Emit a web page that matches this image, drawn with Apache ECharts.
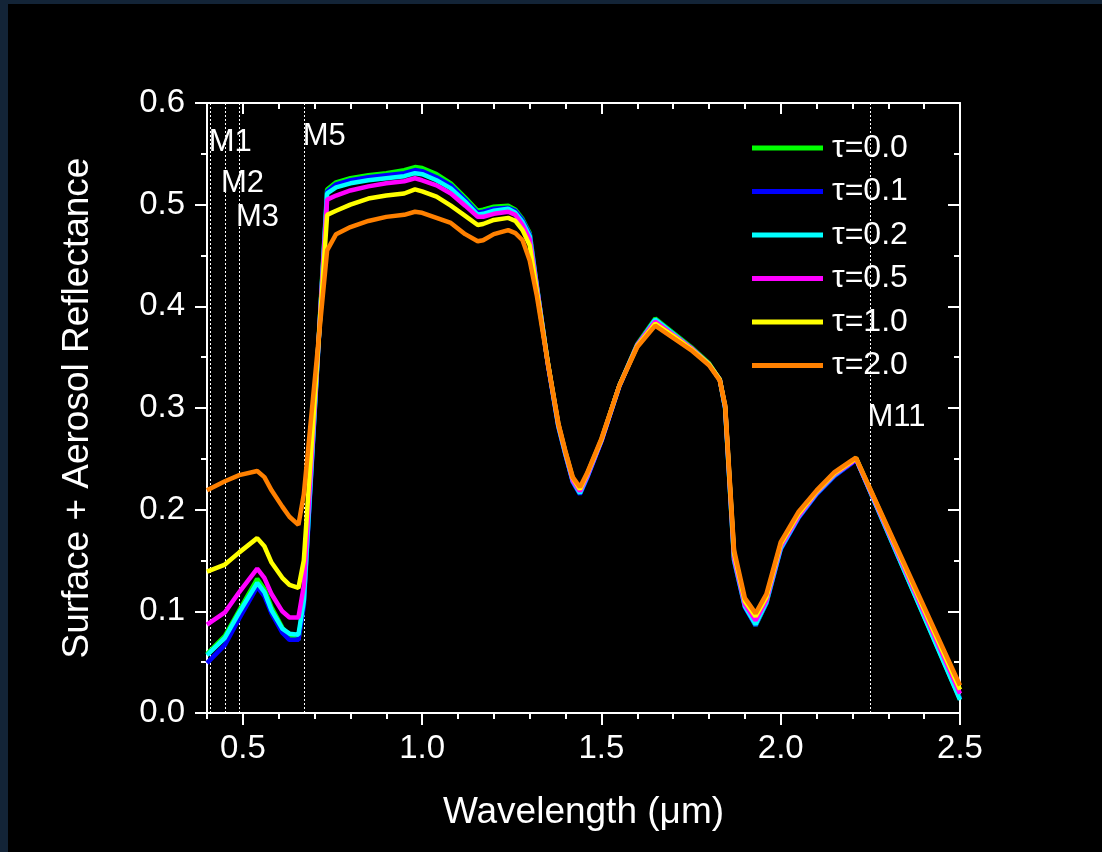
<!DOCTYPE html>
<html>
<head>
<meta charset="utf-8">
<script src="https://cdn.jsdelivr.net/npm/echarts@6/dist/echarts.min.js"></script>
<style>
  html, body { margin: 0; padding: 0; width: 1102px; height: 852px; background: #132437; overflow: hidden; }
  #chart { position: absolute; left: 8px; top: 4px; width: 1094px; height: 848px; }
</style>
</head>
<body>
<div id="chart"></div>
<script>
// ---- data ----
const wavelength = [0.40, 0.45, 0.49, 0.54, 0.56, 0.58, 0.61, 0.63, 0.655, 0.67, 0.735, 0.76, 0.80, 0.85, 0.90, 0.95, 0.98, 1.00, 1.04, 1.08, 1.12, 1.155, 1.17, 1.20, 1.24, 1.26, 1.28, 1.30, 1.32, 1.35, 1.38, 1.40, 1.42, 1.44, 1.46, 1.50, 1.55, 1.60, 1.65, 1.70, 1.75, 1.80, 1.83, 1.845, 1.87, 1.90, 1.93, 1.96, 2.00, 2.05, 2.10, 2.15, 2.20, 2.21, 2.50];

const tau00 = [0.058, 0.076, 0.101, 0.132, 0.122, 0.104, 0.084, 0.075, 0.072, 0.110, 0.515, 0.522, 0.526, 0.529, 0.531, 0.534, 0.537, 0.536, 0.530, 0.521, 0.507, 0.494, 0.495, 0.498, 0.499, 0.495, 0.486, 0.472, 0.420, 0.345, 0.282, 0.254, 0.228, 0.216, 0.232, 0.268, 0.322, 0.363, 0.388, 0.374, 0.360, 0.344, 0.328, 0.300, 0.150, 0.105, 0.086, 0.108, 0.162, 0.193, 0.216, 0.234, 0.247, 0.250, 0.014];
const tau01 = [0.049, 0.067, 0.093, 0.124, 0.115, 0.098, 0.079, 0.072, 0.072, 0.105, 0.513, 0.520, 0.524, 0.527, 0.529, 0.531, 0.534, 0.533, 0.527, 0.519, 0.505, 0.492, 0.493, 0.496, 0.497, 0.494, 0.485, 0.471, 0.420, 0.344, 0.281, 0.253, 0.227, 0.215, 0.231, 0.267, 0.321, 0.362, 0.387, 0.373, 0.359, 0.343, 0.328, 0.300, 0.150, 0.104, 0.086, 0.108, 0.161, 0.192, 0.215, 0.233, 0.246, 0.250, 0.014];
const tau02 = [0.057, 0.074, 0.099, 0.128, 0.119, 0.101, 0.083, 0.078, 0.077, 0.110, 0.511, 0.517, 0.521, 0.524, 0.526, 0.528, 0.531, 0.530, 0.524, 0.516, 0.503, 0.490, 0.491, 0.494, 0.496, 0.492, 0.483, 0.469, 0.419, 0.345, 0.282, 0.254, 0.228, 0.216, 0.232, 0.268, 0.322, 0.362, 0.387, 0.373, 0.359, 0.343, 0.328, 0.300, 0.151, 0.105, 0.087, 0.109, 0.162, 0.193, 0.216, 0.234, 0.247, 0.250, 0.013];
const tau05 = [0.087, 0.099, 0.119, 0.142, 0.133, 0.117, 0.100, 0.094, 0.094, 0.125, 0.505, 0.509, 0.514, 0.518, 0.521, 0.523, 0.526, 0.524, 0.519, 0.511, 0.499, 0.488, 0.488, 0.491, 0.493, 0.490, 0.480, 0.466, 0.418, 0.345, 0.283, 0.255, 0.229, 0.218, 0.233, 0.268, 0.322, 0.362, 0.385, 0.372, 0.359, 0.343, 0.328, 0.301, 0.153, 0.107, 0.091, 0.111, 0.164, 0.194, 0.217, 0.235, 0.247, 0.250, 0.019];
const tau10 = [0.139, 0.146, 0.158, 0.172, 0.164, 0.148, 0.133, 0.126, 0.123, 0.150, 0.490, 0.494, 0.500, 0.506, 0.509, 0.511, 0.515, 0.513, 0.508, 0.499, 0.489, 0.480, 0.481, 0.485, 0.487, 0.484, 0.475, 0.460, 0.415, 0.346, 0.284, 0.256, 0.231, 0.220, 0.235, 0.269, 0.322, 0.361, 0.383, 0.371, 0.358, 0.343, 0.328, 0.302, 0.157, 0.110, 0.095, 0.114, 0.166, 0.196, 0.218, 0.236, 0.248, 0.251, 0.023];
const tau20 = [0.219, 0.228, 0.234, 0.238, 0.232, 0.219, 0.203, 0.193, 0.185, 0.215, 0.455, 0.471, 0.478, 0.484, 0.488, 0.490, 0.493, 0.492, 0.487, 0.482, 0.471, 0.464, 0.465, 0.471, 0.475, 0.472, 0.465, 0.445, 0.410, 0.345, 0.285, 0.257, 0.232, 0.222, 0.236, 0.270, 0.322, 0.360, 0.381, 0.369, 0.357, 0.342, 0.327, 0.303, 0.160, 0.113, 0.098, 0.117, 0.168, 0.198, 0.219, 0.237, 0.249, 0.251, 0.027];

const seriesNames = ['τ=0.0', 'τ=0.1', 'τ=0.2', 'τ=0.5', 'τ=1.0', 'τ=2.0'];
const seriesValues = [tau00, tau01, tau02, tau05, tau10, tau20];

const bandNames = ['M1', 'M2', 'M3', 'M5', 'M11'];
const bandCenters = [0.412, 0.445, 0.488, 0.672, 2.25];

const xMajorTicks = [0.5, 1.0, 1.5, 2.0, 2.5];
const xMinorTicks = [0.4, 0.6, 0.7, 0.8, 0.9, 1.1, 1.2, 1.3, 1.4, 1.6, 1.7, 1.8, 1.9, 2.1, 2.2, 2.3, 2.4];
const yMajorTicks = [0.0, 0.1, 0.2, 0.3, 0.4, 0.5, 0.6];
const yMinorTicks = [0.05, 0.15, 0.25, 0.35, 0.45, 0.55];

// ---- styles / layout ----
const colors = ['#00ff00', '#0000ff', '#00ffff', '#ff00ff', '#ffff00', '#ff8000'];
const FONT = '"Liberation Sans", Arial, Helvetica, sans-serif';
const WHITE = '#ffffff';
// label anchor points for band names (data coordinates)
const bandLabelAnchors = [[0.405, 0.561], [0.439, 0.521], [0.481, 0.487], [0.667, 0.567], [2.242, 0.291]];

const chart = echarts.init(document.getElementById('chart'), null, { renderer: 'canvas' });

function xAx(pos, ticks, len, inside, showLine, extra) {
  return Object.assign({
    type: 'value', position: pos, min: 0.4, max: 2.5,
    splitLine: { show: false },
    axisLine: { show: showLine, onZero: false, lineStyle: { color: WHITE, width: 2 } },
    axisTick: { show: true, customValues: ticks, length: len, inside: inside, lineStyle: { color: WHITE, width: 2 } },
    axisLabel: { show: false }
  }, extra || {});
}
function yAx(pos, ticks, len, inside, showLine, extra) {
  return Object.assign({
    type: 'value', position: pos, min: 0, max: 0.6,
    splitLine: { show: false },
    axisLine: { show: showLine, onZero: false, lineStyle: { color: WHITE, width: 2 } },
    axisTick: { show: true, customValues: ticks, length: len, inside: inside, lineStyle: { color: WHITE, width: 2 } },
    axisLabel: { show: false }
  }, extra || {});
}

const lineSeries = seriesNames.map((name, i) => ({
  name: name,
  type: 'line',
  xAxisIndex: 0, yAxisIndex: 0,
  data: wavelength.map((w, j) => [w, seriesValues[i][j]]),
  showSymbol: false,
  symbol: 'none',
  smooth: false,
  lineStyle: { color: colors[i], width: 4.5 },
  itemStyle: { color: colors[i] },
  z: 3 + i,
  animation: false
}));

// band marker lines attached to the first series
lineSeries[0].markLine = {
  silent: true,
  symbol: ['none', 'none'],
  label: { show: false },
  lineStyle: { type: [2, 2], color: WHITE, width: 1, opacity: 1 },
  data: bandCenters.map(v => ({ xAxis: v })),
  animation: false,
  z: 1
};

const bandLabelSeries = {
  name: 'bands',
  type: 'scatter',
  xAxisIndex: 0, yAxisIndex: 0,
  symbolSize: 0,
  silent: true,
  itemStyle: { opacity: 1 },
  data: bandNames.map((n, i) => ({ name: n, value: bandLabelAnchors[i] })),
  label: {
    show: true, position: 'right', distance: 0, formatter: '{b}', opacity: 1,
    color: WHITE, fontSize: 31, fontFamily: FONT
  },
  z: 10,
  animation: false
};

const option = {
  backgroundColor: '#000000',
  animation: false,
  textStyle: { fontFamily: FONT, color: WHITE },
  grid: { left: 199, top: 99, width: 753, height: 610, containLabel: false },
  legend: {
    data: seriesNames,
    orient: 'vertical',
    left: 739, top: 123,
    icon: 'rect',
    itemWidth: 71, itemHeight: 5,
    itemGap: 11.5,
    textStyle: { color: WHITE, fontSize: 32, fontFamily: FONT, lineHeight: 32, padding: [0, 0, 0, 4] },
    inactiveColor: '#888'
  },
  xAxis: [
    xAx('bottom', xMajorTicks, 12, false, true, {
      axisLabel: { show: true, customValues: xMajorTicks, margin: 19, color: WHITE, fontSize: 33, fontFamily: FONT, formatter: v => v.toFixed(1) },
      name: 'Wavelength (μm)', nameLocation: 'middle', nameGap: 81,
      nameTextStyle: { color: WHITE, fontSize: 37, fontFamily: FONT }
    }),
    xAx('bottom', xMinorTicks, 6, false, false),
    xAx('top', xMajorTicks, 11, true, true),
    xAx('top', xMinorTicks, 6, true, false)
  ],
  yAxis: [
    yAx('left', yMajorTicks, 12, false, true, {
      axisLabel: { show: true, customValues: yMajorTicks, margin: 22, color: WHITE, fontSize: 33, fontFamily: FONT, formatter: v => v.toFixed(1) },
      name: 'Surface + Aerosol Reflectance', nameLocation: 'middle', nameGap: 111,
      nameTextStyle: { color: WHITE, fontSize: 37, fontFamily: FONT }
    }),
    yAx('left', yMinorTicks, 6, false, false),
    yAx('right', yMajorTicks, 12, true, true),
    yAx('right', yMinorTicks, 6, true, false)
  ],
  series: lineSeries.concat([bandLabelSeries])
};

chart.setOption(option);
</script>
</body>
</html>
